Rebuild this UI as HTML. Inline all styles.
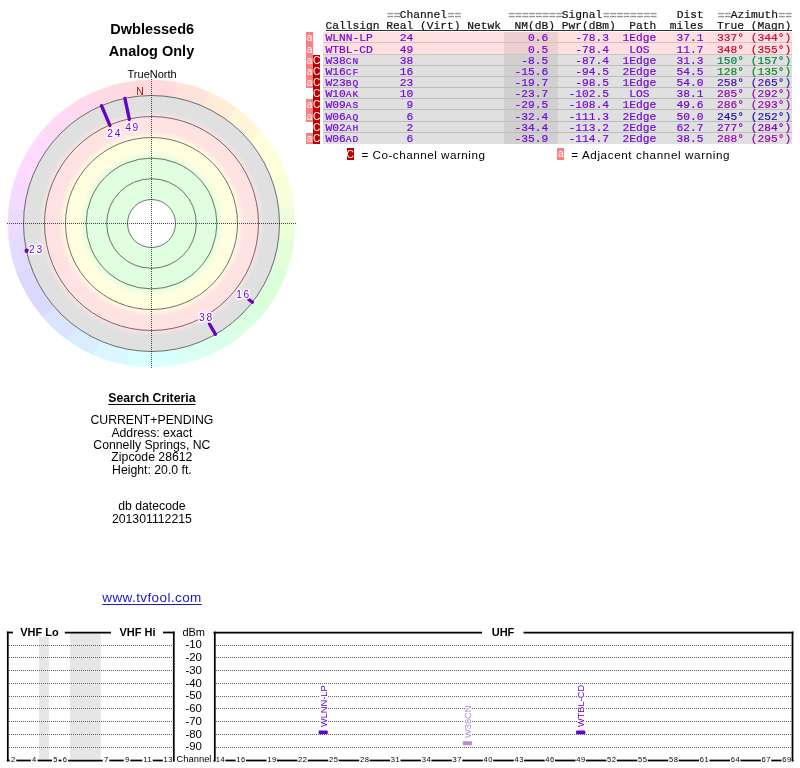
<!DOCTYPE html>
<html><head><meta charset="utf-8"><title>TV Fool</title>
<style>
html,body{margin:0;padding:0;background:#fff;}
body{width:800px;height:768px;position:relative;overflow:hidden;font-family:"Liberation Sans",sans-serif;color:#000;}
.t{position:absolute;white-space:pre;line-height:1;}
.c{transform:translateX(-50%);text-align:center;}
.mono{font-family:"Liberation Mono",monospace;font-size:11.25px;}
.m{font-family:"Liberation Mono",monospace;-webkit-text-stroke:0.2px currentColor;}
.row{position:absolute;left:323.25px;width:469px;box-sizing:border-box;}
.nm{position:absolute;left:181px;width:54px;top:0;bottom:0;}
.p{color:#7408dc;}
.eq{color:transparent;-webkit-text-stroke:0;}
.eb{position:absolute;height:1.35px;width:5.8px;background:#999;}
.sc{font-size:9.6px;letter-spacing:0.99px;}
.fa,.fc{position:absolute;width:7px;color:#fff;font-size:10px;text-align:center;overflow:hidden;}
.fa{left:306px;background:#fa8080;}
.fc{left:313px;background:#c00000;}
svg{position:absolute;left:0;top:0;}
#w{position:absolute;left:0;top:0;width:800px;height:768px;will-change:transform;}
</style></head><body><div id="w">

<svg width="800" height="768" viewBox="0 0 800 768">
<defs><radialGradient id="rg" gradientUnits="userSpaceOnUse" cx="151.5" cy="223.5" r="128">
<stop offset="0.0000" stop-color="#ffffff"/>
<stop offset="0.1875" stop-color="#ffffff"/>
<stop offset="0.1875" stop-color="#e0ffe0"/>
<stop offset="0.5078" stop-color="#e0ffe0"/>
<stop offset="0.5703" stop-color="#ffffe0"/>
<stop offset="0.6641" stop-color="#ffffe0"/>
<stop offset="0.7266" stop-color="#ffe2e2"/>
<stop offset="0.8281" stop-color="#ffe2e2"/>
<stop offset="0.8828" stop-color="#e0e0e0"/>
<stop offset="1.0000" stop-color="#e0e0e0"/>
</radialGradient></defs>
<path d="M151.50 223.50 L176.42 82.18 A143.5 143.5 0 0 1 209.41 92.20 Z" fill="#ffe3da" stroke="#ffe3da" stroke-width="0.6"/>
<path d="M151.50 223.50 L209.41 92.20 A143.5 143.5 0 0 1 236.45 107.85 Z" fill="#ffedda" stroke="#ffedda" stroke-width="0.6"/>
<path d="M151.50 223.50 L236.45 107.85 A143.5 143.5 0 0 1 260.62 130.30 Z" fill="#fff6da" stroke="#fff6da" stroke-width="0.6"/>
<path d="M151.50 223.50 L260.62 130.30 A143.5 143.5 0 0 1 286.35 174.42 Z" fill="#ffffda" stroke="#ffffda" stroke-width="0.6"/>
<path d="M151.50 223.50 L286.35 174.42 A143.5 143.5 0 0 1 294.16 208.00 Z" fill="#f6ffda" stroke="#f6ffda" stroke-width="0.6"/>
<path d="M151.50 223.50 L294.16 208.00 A143.5 143.5 0 0 1 294.13 239.25 Z" fill="#edffda" stroke="#edffda" stroke-width="0.6"/>
<path d="M151.50 223.50 L294.13 239.25 A143.5 143.5 0 0 1 286.77 271.40 Z" fill="#e3ffda" stroke="#e3ffda" stroke-width="0.6"/>
<path d="M151.50 223.50 L286.77 271.40 A143.5 143.5 0 0 1 261.43 315.74 Z" fill="#daffda" stroke="#daffda" stroke-width="0.6"/>
<path d="M151.50 223.50 L261.43 315.74 A143.5 143.5 0 0 1 236.25 339.30 Z" fill="#daffe3" stroke="#daffe3" stroke-width="0.6"/>
<path d="M151.50 223.50 L236.25 339.30 A143.5 143.5 0 0 1 209.18 354.90 Z" fill="#daffed" stroke="#daffed" stroke-width="0.6"/>
<path d="M151.50 223.50 L209.18 354.90 A143.5 143.5 0 0 1 177.65 364.60 Z" fill="#dafff6" stroke="#dafff6" stroke-width="0.6"/>
<path d="M151.50 223.50 L177.65 364.60 A143.5 143.5 0 0 1 126.58 364.82 Z" fill="#daffff" stroke="#daffff" stroke-width="0.6"/>
<path d="M151.50 223.50 L126.58 364.82 A143.5 143.5 0 0 1 93.59 354.80 Z" fill="#daf6ff" stroke="#daf6ff" stroke-width="0.6"/>
<path d="M151.50 223.50 L93.59 354.80 A143.5 143.5 0 0 1 66.55 339.15 Z" fill="#daedff" stroke="#daedff" stroke-width="0.6"/>
<path d="M151.50 223.50 L66.55 339.15 A143.5 143.5 0 0 1 42.38 316.70 Z" fill="#dae3ff" stroke="#dae3ff" stroke-width="0.6"/>
<path d="M151.50 223.50 L42.38 316.70 A143.5 143.5 0 0 1 16.65 272.58 Z" fill="#dadaff" stroke="#dadaff" stroke-width="0.6"/>
<path d="M151.50 223.50 L16.65 272.58 A143.5 143.5 0 0 1 8.84 239.00 Z" fill="#e3daff" stroke="#e3daff" stroke-width="0.6"/>
<path d="M151.50 223.50 L8.84 239.00 A143.5 143.5 0 0 1 8.87 207.75 Z" fill="#eddaff" stroke="#eddaff" stroke-width="0.6"/>
<path d="M151.50 223.50 L8.87 207.75 A143.5 143.5 0 0 1 16.23 175.60 Z" fill="#f6daff" stroke="#f6daff" stroke-width="0.6"/>
<path d="M151.50 223.50 L16.23 175.60 A143.5 143.5 0 0 1 41.57 131.26 Z" fill="#ffdaff" stroke="#ffdaff" stroke-width="0.6"/>
<path d="M151.50 223.50 L41.57 131.26 A143.5 143.5 0 0 1 66.75 107.70 Z" fill="#ffdaf6" stroke="#ffdaf6" stroke-width="0.6"/>
<path d="M151.50 223.50 L66.75 107.70 A143.5 143.5 0 0 1 93.82 92.10 Z" fill="#ffdaed" stroke="#ffdaed" stroke-width="0.6"/>
<path d="M151.50 223.50 L93.82 92.10 A143.5 143.5 0 0 1 125.35 82.40 Z" fill="#ffdae3" stroke="#ffdae3" stroke-width="0.6"/>
<path d="M151.50 223.50 L125.35 82.40 A143.5 143.5 0 0 1 176.42 82.18 Z" fill="#ffdada" stroke="#ffdada" stroke-width="0.6"/>
<circle cx="151.5" cy="223.5" r="128" fill="url(#rg)"/>
<circle cx="151.5" cy="223.5" r="24" fill="none" stroke="#383838" stroke-width="0.7"/>
<circle cx="151.5" cy="223.5" r="44.8" fill="none" stroke="#383838" stroke-width="0.7"/>
<circle cx="151.5" cy="223.5" r="65.4" fill="none" stroke="#383838" stroke-width="0.7"/>
<circle cx="151.5" cy="223.5" r="86" fill="none" stroke="#383838" stroke-width="0.7"/>
<circle cx="151.5" cy="223.5" r="107" fill="none" stroke="#383838" stroke-width="0.7"/>
<circle cx="151.5" cy="223.5" r="128" fill="none" stroke="#383838" stroke-width="0.7"/>
<line x1="7" y1="223.5" x2="297" y2="223.5" stroke="#000" stroke-opacity="0.8" stroke-width="0.9" stroke-dasharray="1 1"/>
<line x1="151.5" y1="79" x2="151.5" y2="368" stroke="#000" stroke-opacity="0.8" stroke-width="0.9" stroke-dasharray="1 1"/>
<line x1="109.89" y1="125.47" x2="101.49" y2="105.68" stroke="#6600cc" stroke-width="3.3" stroke-linecap="round"/>
<line x1="129.36" y1="119.33" x2="124.89" y2="98.30" stroke="#6600cc" stroke-width="3.3" stroke-linecap="round"/>
<line x1="209.50" y1="323.96" x2="215.50" y2="334.35" stroke="#6600cc" stroke-width="3.3" stroke-linecap="round"/>
<line x1="248.43" y1="299.23" x2="252.37" y2="302.30" stroke="#6600cc" stroke-width="3.3" stroke-linecap="round"/>
<circle cx="26.70" cy="250.71" r="2.2" fill="#6600cc"/>
<text x="114.7" y="137.2" text-anchor="middle" font-family="Liberation Sans, sans-serif" font-size="10.2" letter-spacing="1.7" fill="#7a00e0" stroke="#fff" stroke-width="3" stroke-linejoin="round" paint-order="stroke">24</text>
<text x="132.5" y="130.7" text-anchor="middle" font-family="Liberation Sans, sans-serif" font-size="10.2" letter-spacing="1.7" fill="#7a00e0" stroke="#fff" stroke-width="3" stroke-linejoin="round" paint-order="stroke">49</text>
<text x="36.4" y="253" text-anchor="middle" font-family="Liberation Sans, sans-serif" font-size="10.2" letter-spacing="1.7" fill="#7a00e0" stroke="#fff" stroke-width="3" stroke-linejoin="round" paint-order="stroke">23</text>
<text x="243.5" y="298.3" text-anchor="middle" font-family="Liberation Sans, sans-serif" font-size="10.2" letter-spacing="1.7" fill="#7a00e0" stroke="#fff" stroke-width="3" stroke-linejoin="round" paint-order="stroke">16</text>
<text x="206.4" y="320.9" text-anchor="middle" font-family="Liberation Sans, sans-serif" font-size="10.2" letter-spacing="1.7" fill="#7a00e0" stroke="#fff" stroke-width="3" stroke-linejoin="round" paint-order="stroke">38</text>
<rect x="39" y="637" width="10" height="122.5" fill="#e6e6e6"/>
<rect x="70" y="633.5" width="30.7" height="126" fill="#e6e6e6"/>
<line x1="9" y1="645.5" x2="173" y2="645.5" stroke="#606060" stroke-width="1" stroke-dasharray="1 1"/>
<line x1="216" y1="645.5" x2="792" y2="645.5" stroke="#606060" stroke-width="1" stroke-dasharray="1 1"/>
<line x1="9" y1="657.5" x2="173" y2="657.5" stroke="#606060" stroke-width="1" stroke-dasharray="1 1"/>
<line x1="216" y1="657.5" x2="792" y2="657.5" stroke="#606060" stroke-width="1" stroke-dasharray="1 1"/>
<line x1="9" y1="670.5" x2="173" y2="670.5" stroke="#606060" stroke-width="1" stroke-dasharray="1 1"/>
<line x1="216" y1="670.5" x2="792" y2="670.5" stroke="#606060" stroke-width="1" stroke-dasharray="1 1"/>
<line x1="9" y1="683.5" x2="173" y2="683.5" stroke="#606060" stroke-width="1" stroke-dasharray="1 1"/>
<line x1="216" y1="683.5" x2="792" y2="683.5" stroke="#606060" stroke-width="1" stroke-dasharray="1 1"/>
<line x1="9" y1="696.5" x2="173" y2="696.5" stroke="#606060" stroke-width="1" stroke-dasharray="1 1"/>
<line x1="216" y1="696.5" x2="792" y2="696.5" stroke="#606060" stroke-width="1" stroke-dasharray="1 1"/>
<line x1="9" y1="708.5" x2="173" y2="708.5" stroke="#606060" stroke-width="1" stroke-dasharray="1 1"/>
<line x1="216" y1="708.5" x2="792" y2="708.5" stroke="#606060" stroke-width="1" stroke-dasharray="1 1"/>
<line x1="9" y1="721.5" x2="173" y2="721.5" stroke="#606060" stroke-width="1" stroke-dasharray="1 1"/>
<line x1="216" y1="721.5" x2="792" y2="721.5" stroke="#606060" stroke-width="1" stroke-dasharray="1 1"/>
<line x1="9" y1="734.5" x2="173" y2="734.5" stroke="#606060" stroke-width="1" stroke-dasharray="1 1"/>
<line x1="216" y1="734.5" x2="792" y2="734.5" stroke="#606060" stroke-width="1" stroke-dasharray="1 1"/>
<line x1="9" y1="747.5" x2="173" y2="747.5" stroke="#606060" stroke-width="1" stroke-dasharray="1 1"/>
<line x1="216" y1="747.5" x2="792" y2="747.5" stroke="#606060" stroke-width="1" stroke-dasharray="1 1"/>
<line x1="7.8" y1="631.6" x2="7.8" y2="761.4" stroke="#000" stroke-width="1.75"/>
<line x1="173.8" y1="631.6" x2="173.8" y2="761.4" stroke="#000" stroke-width="1.75"/>
<line x1="6.8" y1="632.5" x2="13" y2="632.5" stroke="#000" stroke-width="1.75"/>
<line x1="64.8" y1="632.5" x2="111" y2="632.5" stroke="#000" stroke-width="1.75"/>
<line x1="163" y1="632.5" x2="174.5" y2="632.5" stroke="#000" stroke-width="1.75"/>
<line x1="214.8" y1="631.6" x2="214.8" y2="761.4" stroke="#000" stroke-width="1.75"/>
<line x1="792.5" y1="631.6" x2="792.5" y2="761.4" stroke="#000" stroke-width="1.75"/>
<line x1="213.5" y1="632.5" x2="482" y2="632.5" stroke="#000" stroke-width="1.75"/>
<line x1="523.5" y1="632.5" x2="793.5" y2="632.5" stroke="#000" stroke-width="1.75"/>
<line x1="6.8" y1="760.5" x2="9.7" y2="760.5" stroke="#000" stroke-width="1.75"/>
<line x1="16.3" y1="760.5" x2="30.9" y2="760.5" stroke="#000" stroke-width="1.75"/>
<line x1="37.5" y1="760.5" x2="52" y2="760.5" stroke="#000" stroke-width="1.75"/>
<line x1="58.6" y1="760.5" x2="61.5" y2="760.5" stroke="#000" stroke-width="1.75"/>
<line x1="68.1" y1="760.5" x2="102.7" y2="760.5" stroke="#000" stroke-width="1.75"/>
<line x1="109.3" y1="760.5" x2="123.7" y2="760.5" stroke="#000" stroke-width="1.75"/>
<line x1="130.3" y1="760.5" x2="142.3" y2="760.5" stroke="#000" stroke-width="1.75"/>
<line x1="152.7" y1="760.5" x2="162.8" y2="760.5" stroke="#000" stroke-width="1.75"/>
<line x1="173.2" y1="760.5" x2="174.5" y2="760.5" stroke="#000" stroke-width="1.75"/>
<line x1="213.5" y1="760.5" x2="215" y2="760.5" stroke="#000" stroke-width="1.75"/>
<line x1="225.4" y1="760.5" x2="235.6" y2="760.5" stroke="#000" stroke-width="1.75"/>
<line x1="246" y1="760.5" x2="266.5" y2="760.5" stroke="#000" stroke-width="1.75"/>
<line x1="276.9" y1="760.5" x2="297.4" y2="760.5" stroke="#000" stroke-width="1.75"/>
<line x1="307.8" y1="760.5" x2="328.3" y2="760.5" stroke="#000" stroke-width="1.75"/>
<line x1="338.7" y1="760.5" x2="359.2" y2="760.5" stroke="#000" stroke-width="1.75"/>
<line x1="369.6" y1="760.5" x2="390.1" y2="760.5" stroke="#000" stroke-width="1.75"/>
<line x1="400.5" y1="760.5" x2="421" y2="760.5" stroke="#000" stroke-width="1.75"/>
<line x1="431.4" y1="760.5" x2="451.9" y2="760.5" stroke="#000" stroke-width="1.75"/>
<line x1="462.3" y1="760.5" x2="482.8" y2="760.5" stroke="#000" stroke-width="1.75"/>
<line x1="493.2" y1="760.5" x2="513.7" y2="760.5" stroke="#000" stroke-width="1.75"/>
<line x1="524.1" y1="760.5" x2="544.6" y2="760.5" stroke="#000" stroke-width="1.75"/>
<line x1="555" y1="760.5" x2="575.5" y2="760.5" stroke="#000" stroke-width="1.75"/>
<line x1="585.9" y1="760.5" x2="606.4" y2="760.5" stroke="#000" stroke-width="1.75"/>
<line x1="616.8" y1="760.5" x2="637.3" y2="760.5" stroke="#000" stroke-width="1.75"/>
<line x1="647.7" y1="760.5" x2="668.2" y2="760.5" stroke="#000" stroke-width="1.75"/>
<line x1="678.6" y1="760.5" x2="699.1" y2="760.5" stroke="#000" stroke-width="1.75"/>
<line x1="709.5" y1="760.5" x2="730" y2="760.5" stroke="#000" stroke-width="1.75"/>
<line x1="740.4" y1="760.5" x2="760.9" y2="760.5" stroke="#000" stroke-width="1.75"/>
<line x1="771.3" y1="760.5" x2="781.5" y2="760.5" stroke="#000" stroke-width="1.75"/>
<line x1="791.9" y1="760.5" x2="793.5" y2="760.5" stroke="#000" stroke-width="1.75"/>
<text x="13.25" y="762" text-anchor="middle" font-family="Liberation Sans, sans-serif" font-size="7.6" letter-spacing="0.5" fill="#000">2</text>
<text x="34.45" y="762" text-anchor="middle" font-family="Liberation Sans, sans-serif" font-size="7.6" letter-spacing="0.5" fill="#000">4</text>
<text x="55.55" y="762" text-anchor="middle" font-family="Liberation Sans, sans-serif" font-size="7.6" letter-spacing="0.5" fill="#000">5</text>
<text x="65.05" y="762" text-anchor="middle" font-family="Liberation Sans, sans-serif" font-size="7.6" letter-spacing="0.5" fill="#000">6</text>
<text x="106.25" y="762" text-anchor="middle" font-family="Liberation Sans, sans-serif" font-size="7.6" letter-spacing="0.5" fill="#000">7</text>
<text x="127.25" y="762" text-anchor="middle" font-family="Liberation Sans, sans-serif" font-size="7.6" letter-spacing="0.5" fill="#000">9</text>
<text x="147.75" y="762" text-anchor="middle" font-family="Liberation Sans, sans-serif" font-size="7.6" letter-spacing="0.5" fill="#000">11</text>
<text x="168.25" y="762" text-anchor="middle" font-family="Liberation Sans, sans-serif" font-size="7.6" letter-spacing="0.5" fill="#000">13</text>
<text x="220.45" y="762" text-anchor="middle" font-family="Liberation Sans, sans-serif" font-size="7.6" letter-spacing="0.5" fill="#000">14</text>
<text x="241.05" y="762" text-anchor="middle" font-family="Liberation Sans, sans-serif" font-size="7.6" letter-spacing="0.5" fill="#000">16</text>
<text x="271.95" y="762" text-anchor="middle" font-family="Liberation Sans, sans-serif" font-size="7.6" letter-spacing="0.5" fill="#000">19</text>
<text x="302.85" y="762" text-anchor="middle" font-family="Liberation Sans, sans-serif" font-size="7.6" letter-spacing="0.5" fill="#000">22</text>
<text x="333.75" y="762" text-anchor="middle" font-family="Liberation Sans, sans-serif" font-size="7.6" letter-spacing="0.5" fill="#000">25</text>
<text x="364.65" y="762" text-anchor="middle" font-family="Liberation Sans, sans-serif" font-size="7.6" letter-spacing="0.5" fill="#000">28</text>
<text x="395.55" y="762" text-anchor="middle" font-family="Liberation Sans, sans-serif" font-size="7.6" letter-spacing="0.5" fill="#000">31</text>
<text x="426.45" y="762" text-anchor="middle" font-family="Liberation Sans, sans-serif" font-size="7.6" letter-spacing="0.5" fill="#000">34</text>
<text x="457.35" y="762" text-anchor="middle" font-family="Liberation Sans, sans-serif" font-size="7.6" letter-spacing="0.5" fill="#000">37</text>
<text x="488.25" y="762" text-anchor="middle" font-family="Liberation Sans, sans-serif" font-size="7.6" letter-spacing="0.5" fill="#000">40</text>
<text x="519.15" y="762" text-anchor="middle" font-family="Liberation Sans, sans-serif" font-size="7.6" letter-spacing="0.5" fill="#000">43</text>
<text x="550.05" y="762" text-anchor="middle" font-family="Liberation Sans, sans-serif" font-size="7.6" letter-spacing="0.5" fill="#000">46</text>
<text x="580.95" y="762" text-anchor="middle" font-family="Liberation Sans, sans-serif" font-size="7.6" letter-spacing="0.5" fill="#000">49</text>
<text x="611.85" y="762" text-anchor="middle" font-family="Liberation Sans, sans-serif" font-size="7.6" letter-spacing="0.5" fill="#000">52</text>
<text x="642.75" y="762" text-anchor="middle" font-family="Liberation Sans, sans-serif" font-size="7.6" letter-spacing="0.5" fill="#000">55</text>
<text x="673.65" y="762" text-anchor="middle" font-family="Liberation Sans, sans-serif" font-size="7.6" letter-spacing="0.5" fill="#000">58</text>
<text x="704.55" y="762" text-anchor="middle" font-family="Liberation Sans, sans-serif" font-size="7.6" letter-spacing="0.5" fill="#000">61</text>
<text x="735.45" y="762" text-anchor="middle" font-family="Liberation Sans, sans-serif" font-size="7.6" letter-spacing="0.5" fill="#000">64</text>
<text x="766.35" y="762" text-anchor="middle" font-family="Liberation Sans, sans-serif" font-size="7.6" letter-spacing="0.5" fill="#000">67</text>
<text x="786.95" y="762" text-anchor="middle" font-family="Liberation Sans, sans-serif" font-size="7.6" letter-spacing="0.5" fill="#000">69</text>
<rect x="318.60" y="730.4" width="9.2" height="3.9" rx="1" fill="#6600cc"/>
<text transform="translate(326.60 727.1) rotate(-90)" font-family="Liberation Sans, sans-serif" font-size="9.3" fill="#6600cc" stroke="#fff" stroke-width="2" paint-order="stroke">WLNN-LP</text>
<rect x="576.10" y="730.4" width="9.2" height="3.9" rx="1" fill="#6600cc"/>
<text transform="translate(584.10 727.1) rotate(-90)" font-family="Liberation Sans, sans-serif" font-size="9.3" fill="#6600cc" stroke="#fff" stroke-width="2" paint-order="stroke">WTBL-CD</text>
<rect x="462.80" y="741.3" width="9.2" height="3.9" rx="1" fill="#b58be0"/>
<text transform="translate(470.80 738) rotate(-90)" font-family="Liberation Sans, sans-serif" font-size="9.3" fill="#b58be0" stroke="#fff" stroke-width="2" paint-order="stroke">W38CN</text>
</svg>
<div class="t c" style="left:152.2px;top:21.58px;font-size:14.5px;font-weight:bold;">Dwblessed6</div>
<div class="t c" style="left:151.5px;top:43.93px;font-size:14.5px;font-weight:bold;">Analog Only</div>
<div class="t c" style="left:152.1px;top:68.89px;font-size:11px;">TrueNorth</div>
<div class="t c" style="left:140px;top:85.71px;font-size:10.5px;color:#cc0000;text-shadow:0 0 2px #fff,0 0 2px #fff;">N</div>
<div class="t c" style="left:151.9px;top:391.53px;font-size:12.25px;font-weight:bold;text-decoration:underline;text-underline-offset:2px;">Search Criteria</div>
<div class="t c" style="left:151.9px;top:413.83px;font-size:12.25px;">CURRENT+PENDING</div>
<div class="t c" style="left:151.9px;top:426.83px;font-size:12.25px;">Address: exact</div>
<div class="t c" style="left:151.9px;top:438.83px;font-size:12.25px;">Connelly Springs, NC</div>
<div class="t c" style="left:151.9px;top:450.83px;font-size:12.25px;">Zipcode 28612</div>
<div class="t c" style="left:151.9px;top:463.83px;font-size:12.25px;">Height: 20.0 ft.</div>
<div class="t c" style="left:151.9px;top:499.83px;font-size:12.25px;">db datecode</div>
<div class="t c" style="left:151.9px;top:513.23px;font-size:12.25px;">201301112215</div>
<div class="t c" style="left:152px;top:591.32px;font-size:13.5px;color:#1a1acc;text-decoration:underline;letter-spacing:0.4px;text-underline-offset:1.5px;">www.tvfool.com</div>
<div class="t c" style="left:193.7px;top:627.19px;font-size:11px;">dBm</div>
<div class="t c" style="left:193.7px;top:638.55px;font-size:11.4px;">-10</div>
<div class="t c" style="left:193.7px;top:651.55px;font-size:11.4px;">-20</div>
<div class="t c" style="left:193.7px;top:664.55px;font-size:11.4px;">-30</div>
<div class="t c" style="left:193.7px;top:677.55px;font-size:11.4px;">-40</div>
<div class="t c" style="left:193.7px;top:689.55px;font-size:11.4px;">-50</div>
<div class="t c" style="left:193.7px;top:702.55px;font-size:11.4px;">-60</div>
<div class="t c" style="left:193.7px;top:715.55px;font-size:11.4px;">-70</div>
<div class="t c" style="left:193.7px;top:728.55px;font-size:11.4px;">-80</div>
<div class="t c" style="left:193.7px;top:740.55px;font-size:11.4px;">-90</div>
<div class="t c" style="left:194px;top:753.74px;font-size:9.4px;">Channel</div>
<div class="t c" style="left:39.4px;top:627.39px;font-size:11px;font-weight:bold;">VHF Lo</div>
<div class="t c" style="left:137.5px;top:627.39px;font-size:11px;font-weight:bold;">VHF Hi</div>
<div class="t c" style="left:503px;top:627.39px;font-size:11px;font-weight:bold;">UHF</div>
<div class="t m" style="left:325.5px;top:9.58px;font-size:11.25px;color:#111;">         <span class="eq">==</span>Channel<span class="eq">==</span>       <span class="eq">========</span>Signal<span class="eq">========</span>   Dist  <span class="eq">==</span>Azimuth<span class="eq">==</span></div>
<div class="t m" style="left:325.5px;top:20.58px;font-size:11.25px;color:#111;">Callsign Real (Virt) Netwk  NM(dB) Pwr(dBm)  Path  miles  True (Magn)</div>
<svg width="800" height="30" viewBox="0 0 800 30">
<rect x="387.40" y="12.85" width="5.9" height="1.4" fill="#979797"/>
<rect x="387.40" y="15.85" width="5.9" height="1.4" fill="#979797"/>
<rect x="394.15" y="12.85" width="5.9" height="1.4" fill="#979797"/>
<rect x="394.15" y="15.85" width="5.9" height="1.4" fill="#979797"/>
<rect x="448.15" y="12.85" width="5.9" height="1.4" fill="#979797"/>
<rect x="448.15" y="15.85" width="5.9" height="1.4" fill="#979797"/>
<rect x="454.90" y="12.85" width="5.9" height="1.4" fill="#979797"/>
<rect x="454.90" y="15.85" width="5.9" height="1.4" fill="#979797"/>
<rect x="508.90" y="12.85" width="5.9" height="1.4" fill="#979797"/>
<rect x="508.90" y="15.85" width="5.9" height="1.4" fill="#979797"/>
<rect x="515.65" y="12.85" width="5.9" height="1.4" fill="#979797"/>
<rect x="515.65" y="15.85" width="5.9" height="1.4" fill="#979797"/>
<rect x="522.40" y="12.85" width="5.9" height="1.4" fill="#979797"/>
<rect x="522.40" y="15.85" width="5.9" height="1.4" fill="#979797"/>
<rect x="529.15" y="12.85" width="5.9" height="1.4" fill="#979797"/>
<rect x="529.15" y="15.85" width="5.9" height="1.4" fill="#979797"/>
<rect x="535.90" y="12.85" width="5.9" height="1.4" fill="#979797"/>
<rect x="535.90" y="15.85" width="5.9" height="1.4" fill="#979797"/>
<rect x="542.65" y="12.85" width="5.9" height="1.4" fill="#979797"/>
<rect x="542.65" y="15.85" width="5.9" height="1.4" fill="#979797"/>
<rect x="549.40" y="12.85" width="5.9" height="1.4" fill="#979797"/>
<rect x="549.40" y="15.85" width="5.9" height="1.4" fill="#979797"/>
<rect x="556.15" y="12.85" width="5.9" height="1.4" fill="#979797"/>
<rect x="556.15" y="15.85" width="5.9" height="1.4" fill="#979797"/>
<rect x="603.40" y="12.85" width="5.9" height="1.4" fill="#979797"/>
<rect x="603.40" y="15.85" width="5.9" height="1.4" fill="#979797"/>
<rect x="610.15" y="12.85" width="5.9" height="1.4" fill="#979797"/>
<rect x="610.15" y="15.85" width="5.9" height="1.4" fill="#979797"/>
<rect x="616.90" y="12.85" width="5.9" height="1.4" fill="#979797"/>
<rect x="616.90" y="15.85" width="5.9" height="1.4" fill="#979797"/>
<rect x="623.65" y="12.85" width="5.9" height="1.4" fill="#979797"/>
<rect x="623.65" y="15.85" width="5.9" height="1.4" fill="#979797"/>
<rect x="630.40" y="12.85" width="5.9" height="1.4" fill="#979797"/>
<rect x="630.40" y="15.85" width="5.9" height="1.4" fill="#979797"/>
<rect x="637.15" y="12.85" width="5.9" height="1.4" fill="#979797"/>
<rect x="637.15" y="15.85" width="5.9" height="1.4" fill="#979797"/>
<rect x="643.90" y="12.85" width="5.9" height="1.4" fill="#979797"/>
<rect x="643.90" y="15.85" width="5.9" height="1.4" fill="#979797"/>
<rect x="650.65" y="12.85" width="5.9" height="1.4" fill="#979797"/>
<rect x="650.65" y="15.85" width="5.9" height="1.4" fill="#979797"/>
<rect x="718.15" y="12.85" width="5.9" height="1.4" fill="#979797"/>
<rect x="718.15" y="15.85" width="5.9" height="1.4" fill="#979797"/>
<rect x="724.90" y="12.85" width="5.9" height="1.4" fill="#979797"/>
<rect x="724.90" y="15.85" width="5.9" height="1.4" fill="#979797"/>
<rect x="778.90" y="12.85" width="5.9" height="1.4" fill="#979797"/>
<rect x="778.90" y="15.85" width="5.9" height="1.4" fill="#979797"/>
<rect x="785.65" y="12.85" width="5.9" height="1.4" fill="#979797"/>
<rect x="785.65" y="15.85" width="5.9" height="1.4" fill="#979797"/>
</svg>
<div style="position:absolute;left:326px;top:30px;width:466px;height:1px;background:#333;"></div>
<div class="row" style="top:32px;height:11px;background:#ffe0e0;border-bottom:1px solid #d8c0c0;"><div class="nm" style="background:#ecd0d0;"></div></div>
<div class="t m" style="left:325.5px;top:32.58px;font-size:11.25px;color:#7408dc;">WLNN-LP    24                 0.6    -78.3  1Edge   37.1  <span style="color:#c80a3c">337° (344°)</span></div>
<div class="fa" style="top:32px;height:11px;line-height:12.5px;">a</div>
<div class="row" style="top:43px;height:12px;background:#ffe0e0;border-bottom:1px solid #d8c0c0;"><div class="nm" style="background:#ecd0d0;"></div></div>
<div class="t m" style="left:325.5px;top:44.58px;font-size:11.25px;color:#7408dc;">WTBL-CD    49                 0.5    -78.4   LOS    11.7  <span style="color:#c80a28">348° (355°)</span></div>
<div class="fa" style="top:43px;height:12px;line-height:13.5px;">a</div>
<div class="row" style="top:55px;height:11px;background:#e0e0e0;border-bottom:1px solid #bcbcbc;"><div class="nm" style="background:#d0d0d0;"></div></div>
<div class="t m" style="left:325.5px;top:55.58px;font-size:11.25px;color:#7408dc;">W38<span class="sc">CN</span>      38                -8.5    -87.4  1Edge   31.3  <span style="color:#0a8246">150° (157°)</span></div>
<div class="fa" style="top:55px;height:11px;line-height:12.5px;">a</div>
<div class="fc" style="top:55px;height:11px;line-height:12px;">C</div>
<div class="row" style="top:66px;height:11px;background:#e0e0e0;border-bottom:1px solid #bcbcbc;"><div class="nm" style="background:#d0d0d0;"></div></div>
<div class="t m" style="left:325.5px;top:66.58px;font-size:11.25px;color:#7408dc;">W16<span class="sc">CF</span>      16               -15.6    -94.5  2Edge   54.5  <span style="color:#10881e">128° (135°)</span></div>
<div class="fa" style="top:66px;height:11px;line-height:12.5px;">a</div>
<div class="fc" style="top:66px;height:11px;line-height:12px;">C</div>
<div class="row" style="top:77px;height:11px;background:#e0e0e0;border-bottom:1px solid #bcbcbc;"><div class="nm" style="background:#d0d0d0;"></div></div>
<div class="t m" style="left:325.5px;top:77.58px;font-size:11.25px;color:#7408dc;">W23<span class="sc">BQ</span>      23               -19.7    -98.5  1Edge   54.0  <span style="color:#4210b4">258° (265°)</span></div>
<div class="fa" style="top:77px;height:11px;line-height:12.5px;">a</div>
<div class="fc" style="top:77px;height:11px;line-height:12px;">C</div>
<div class="row" style="top:88px;height:11px;background:#e0e0e0;border-bottom:1px solid #bcbcbc;"><div class="nm" style="background:#d0d0d0;"></div></div>
<div class="t m" style="left:325.5px;top:88.58px;font-size:11.25px;color:#7408dc;">W10<span class="sc">AK</span>      10               -23.7   -102.5   LOS    38.1  <span style="color:#9a00b4">285° (292°)</span></div>
<div class="fc" style="top:88px;height:11px;line-height:12px;">C</div>
<div class="row" style="top:99px;height:11px;background:#e0e0e0;border-bottom:1px solid #bcbcbc;"><div class="nm" style="background:#d0d0d0;"></div></div>
<div class="t m" style="left:325.5px;top:99.58px;font-size:11.25px;color:#7408dc;">W09<span class="sc">AS</span>       9               -29.5   -108.4  1Edge   49.6  <span style="color:#9c00b4">286° (293°)</span></div>
<div class="fa" style="top:99px;height:11px;line-height:12.5px;">a</div>
<div class="fc" style="top:99px;height:11px;line-height:12px;">C</div>
<div class="row" style="top:110px;height:12px;background:#e0e0e0;border-bottom:1px solid #bcbcbc;"><div class="nm" style="background:#d0d0d0;"></div></div>
<div class="t m" style="left:325.5px;top:111.58px;font-size:11.25px;color:#7408dc;">W06<span class="sc">AQ</span>       6               -32.4   -111.3  2Edge   50.0  <span style="color:#1c10b4">245° (252°)</span></div>
<div class="fa" style="top:110px;height:12px;line-height:13.5px;">a</div>
<div class="fc" style="top:110px;height:12px;line-height:13px;">C</div>
<div class="row" style="top:122px;height:11px;background:#e0e0e0;border-bottom:1px solid #bcbcbc;"><div class="nm" style="background:#d0d0d0;"></div></div>
<div class="t m" style="left:325.5px;top:122.58px;font-size:11.25px;color:#7408dc;">W02<span class="sc">AH</span>       2               -34.4   -113.2  2Edge   62.7  <span style="color:#8000b4">277° (284°)</span></div>
<div class="fc" style="top:122px;height:11px;line-height:12px;">C</div>
<div class="row" style="top:133px;height:11px;background:#e0e0e0;"><div class="nm" style="background:#d0d0d0;"></div></div>
<div class="t m" style="left:325.5px;top:133.58px;font-size:11.25px;color:#7408dc;">W06<span class="sc">AD</span>       6               -35.9   -114.7  2Edge   38.5  <span style="color:#a000b4">288° (295°)</span></div>
<div class="fa" style="top:133px;height:11px;line-height:12.5px;">a</div>
<div class="fc" style="top:133px;height:11px;line-height:12px;">C</div>
<div class="fc" style="left:346.6px;top:148.4px;height:11.6px;line-height:14.5px;">C</div>
<div class="t" style="left:361.4px;top:148.70px;font-size:11.7px;letter-spacing:0.5px;">= Co-channel warning</div>
<div class="fa" style="left:557.2px;top:148.4px;height:11.6px;line-height:12px;">a</div>
<div class="t" style="left:571.3px;top:148.70px;font-size:11.7px;letter-spacing:0.6px;">= Adjacent channel warning</div>
</div></body></html>
